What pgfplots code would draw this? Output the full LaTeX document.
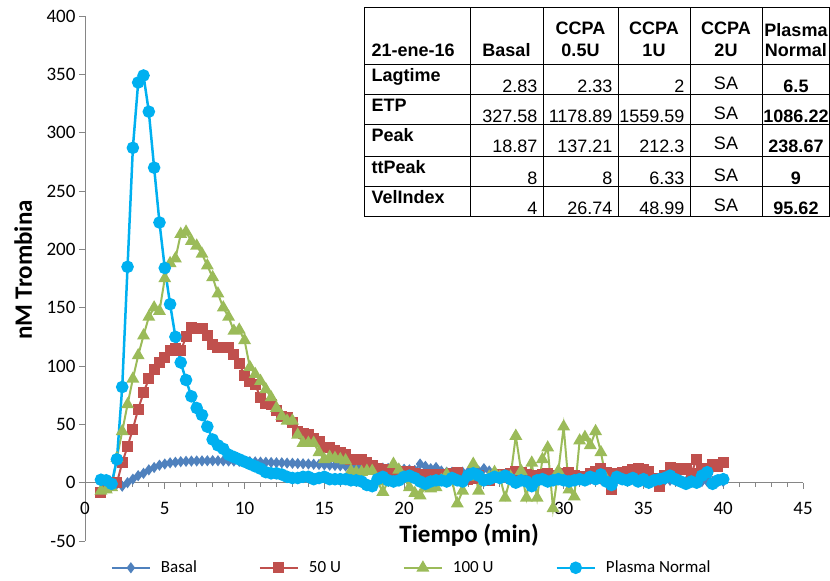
\documentclass[border=0pt]{standalone}
\usepackage{pgfplots}
\pgfplotsset{compat=1.18}
\usepackage{pgfplotstable}
\usepackage{fontspec}
\setmainfont{Carlito}
\newfontfamily\arial{Liberation Sans}
\newcommand\tabfont{\arial\fontsize{18bp}{21bp}\selectfont}
\newcommand\tabbold{\arial\bfseries\fontsize{18bp}{21bp}\selectfont}

\definecolor{cbasal}{HTML}{4F81BD}
\definecolor{cuA}{HTML}{C0504D}
\definecolor{cuB}{HTML}{9BBB59}
\definecolor{cplasma}{HTML}{00B0F0}
\definecolor{axgray}{HTML}{868686}

% t, Basal, 50 U, 100 U, Plasma Normal (nM trombina)
\pgfplotstableread{
t      basal  ua    ub    pn
1.000  1      -8.6  -7    2.5
1.333  1      -4    -6    2
1.667  0      -2    -4    -1
2.000  -1     0     21    20
2.333  -3     17    44    82
2.667  0      31    67    185
3.000  3      46    89    287
3.333  6      63    109   343
3.667  8      77    126   349
4.000  11     89    142   318
4.333  13     97    150   270
4.667  15     103   147   223
5.000  16     107   175   184
5.333  17     113   188   153
5.667  17.5   115   192   125
6.000  18     113   213   103
6.333  18.3   125   215   88
6.667  18.5   133   207   74
7.000  18.6   132   203   64
7.333  18.7   132   196   58
7.667  18.8   126   186   48
8.000  18.87  118   176   37
8.333  18.8   116   162   32
8.667  18.7   116   150   29
9.000  18.6   116   142   24
9.333  18.5   110   130   22
9.667  18.3   102   131   20
10.000 18.1   92    122   18
10.333 18     87    99    16
10.667 17.8   84    93    14
11.000 17.6   73    87    12
11.333 17.5   68    80    9
11.667 17.3   67    73    8
12.000 17.1   62    64    8
12.333 17     57    57    7
12.667 16.8   56    53    5
13.000 16.6   52    53    4
13.333 16.4   44    41    4
13.667 16.2   42    34    5
14.000 16     41    34    5
14.333 15.8   38    34    3
14.667 15.6   35    26    4
15.000 15.3   30    20    5
15.333 15     30    22    3
15.667 14.8   28    21    3
16.000 14.5   26    20    3
16.333 14.3   24    19    3
16.667 14     20    10    2
17.000 13.8   20    9     2
17.333 13.5   20    9     1
17.667 13.3   17    10    -2
18.000 13     15    10    -3
18.333 12.7   12    1     3
18.667 12.5   11    -8    5
19.000 12.2   11    1     2
19.333 12     10    16    1
19.667 11.8   9     11    2
20.000 11.5   10    4     5
20.333 11     10    -4    6
20.667 10.5   8     -9    4
21.000 16     6     -11   1
21.333 14     7     -4    -1
21.667 12     7     -5    1
22.000 13     7     -4    2
22.333 10     7     2     2
22.667 9      6     7     1
23.000 9      8     2     4
23.333 8      9     -18   2
23.667 9      5     -7    1
24.000 9      3     5     6
24.333 12     4     16    8
24.667 10     6     -7    6
25.000 12     3     2     2
25.333 10     2     5     3
25.667 8      5     9     5
26.000 7      7     5     4
26.333 7      6     -13   6
26.667 6      8     5     3
27.000 6      10    40    0
27.333 7      9     10    2
27.667 7      7     -13   1
28.000 5      6     17    -3
28.333 5      5     -13   2
28.667 5      7     20    3
29.000 4      8     30    1
29.333 4      6     -22   2
29.667 4      5     10    3
30.000 4      8     48    2
30.333 4      9     -6    1
30.667 4      6     -12   2
31.000 4      4     36    3
31.333 4      5     39    2
31.667 3      8     32    5
32.000 3      10    44    3
32.333 3      12    26    7
32.667 3      9     3     1
33.000 3      -6    nan   -2
33.333 3      8     nan   5
33.667 3      9     nan   3
34.000 3      10    nan   2
34.333 3      11    nan   4
34.667 2      12    nan   1
35.000 2      11    nan   3
35.333 2      10    nan   0
35.667 2      4     nan   2
36.000 2      -3    nan   3
36.333 2      6     nan   4
36.667 2      13    nan   6
37.000 2      12    nan   3
37.333 2      11    nan   1
37.667 1      12    nan   -1
38.000 1      8     nan   1
38.333 1      20    nan   0
38.667 1      12    nan   6
39.000 1      11    nan   9
39.333 1      16    nan   -1
39.667 1      14    nan   2
40.000 1      17    nan   3
}\data

\begin{document}
\begin{tikzpicture}
\begin{axis}[
  name=ax,
  scale only axis, width=718bp, height=525bp,
  xmin=0, xmax=45, ymin=-50, ymax=400,
  axis x line*=middle, axis y line*=left,
  xtick={0,5,...,45}, ytick={-50,0,...,400},
  minor x tick num=4,
  tick align=outside,
  major tick length=6bp, minor tick length=4bp,
  axis line style={draw=axgray, line width=0.8bp},
  every tick/.style={draw=axgray, line width=0.8bp},
  hide obscured x ticks=false, hide obscured y ticks=false,
  ticklabel style={font=\fontsize{19bp}{22bp}\selectfont, /pgf/number format/assume math mode=true},
  xticklabel style={yshift=-10bp},
  xlabel={Tiempo (min)}, ylabel={nM Trombina},
  label style={font=\bfseries\fontsize{25bp}{30bp}\selectfont},
  x label style={at={(axis description cs:0.535,0.011)}, anchor=center},
  y label style={at={(axis description cs:-0.086,0.516)}, anchor=center},
  legend columns=4,
  legend style={at={(axis description cs:0.455,-0.051)}, anchor=center, draw=none, fill=none,
    font=\fontsize{17bp}{20bp}\selectfont,
    /tikz/every odd column/.append style={column sep=8bp},
    /tikz/every even column/.append style={column sep=60bp}},
  legend image code/.code={\draw[mark repeat=2, mark phase=2, #1] plot coordinates {(0bp,0bp) (19bp,0bp) (38bp,0bp)};},
  clip=false,
]
\addplot[cbasal, line width=2bp, mark=diamond*, mark size=4bp] table[x=t, y=basal] {\data};
\addlegendentry{Basal}
\addplot[cuA, line width=2bp, mark=square*, mark size=4.5bp] table[x=t, y=ua] {\data};
\addlegendentry{50 U}
\addplot[cuB, line width=2bp, mark=triangle*, mark size=5.5bp] table[x=t, y=ub] {\data};
\addlegendentry{100 U}
\addplot[cplasma, line width=2.5bp, mark=*, mark size=5bp] table[x=t, y=pn] {\data};
\addlegendentry{Plasma Normal}
\end{axis}

% summary table, upper right
\begin{scope}[shift={(ax.north west)}, x=1bp, y=1bp]
\foreach \yy in {8,-49,-79,-109,-141,-171,-201} \draw[line width=1bp] (279,\yy) -- (744.5,\yy);
\foreach \xx in {279,385,458,533,605,677,744.5} \draw[line width=1bp] (\xx,8) -- (\xx,-201);
% header
\node[anchor=base west, font=\tabbold] at (283,-41) {21-ene-16};
\node[anchor=base, font=\tabbold] at (421.5,-41) {Basal};
\node[anchor=base, font=\tabbold] at (495.5,-19) {CCPA};
\node[anchor=base, font=\tabbold] at (495.5,-41) {0.5U};
\node[anchor=base, font=\tabbold] at (569,-19) {CCPA};
\node[anchor=base, font=\tabbold] at (569,-41) {1U};
\node[anchor=base, font=\tabbold] at (641,-19) {CCPA};
\node[anchor=base, font=\tabbold] at (641,-41) {2U};
\node[anchor=base, font=\tabbold] at (711,-21) {Plasma};
\node[anchor=base, font=\tabbold] at (711,-41) {Normal};
% rows: top, label, basal, 0.5U, 1U, plasma
\foreach \top/\lab/\a/\b/\c/\d in {
  -49/Lagtime/2.83/2.33/2/6.5,
  -79/ETP/327.58/1178.89/1559.59/1086.22,
  -109/Peak/18.87/137.21/212.3/238.67,
  -141/ttPeak/8/8/6.33/9,
  -171/VelIndex/4/26.74/48.99/95.62}{
  \node[anchor=base west, font=\tabbold] at (283,\top-17) {\lab};
  \node[anchor=base east, font=\tabfont] at (456,\top-27.5) {\a};
  \node[anchor=base east, font=\tabfont] at (531,\top-27.5) {\b};
  \node[anchor=base east, font=\tabfont] at (603,\top-27.5) {\c};
  \node[anchor=base, font=\tabfont] at (641,\top-25) {SA};
  \node[anchor=base, font=\tabbold] at (711,\top-28) {\d};
}
\end{scope}
\pgfresetboundingbox
\path[use as bounding box] ([xshift=-85bp, yshift=-40bp]ax.south west) rectangle ([xshift=745bp, yshift=16bp]ax.north west);
\end{tikzpicture}
\end{document}
